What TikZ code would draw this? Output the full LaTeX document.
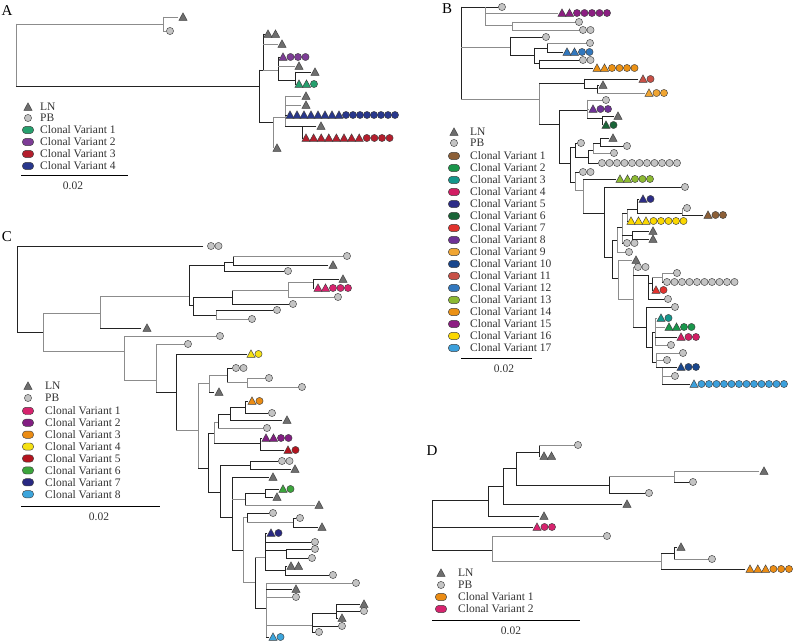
\documentclass[tikz,border=0pt]{standalone}
\usepackage{fontspec}
\setmainfont{Liberation Serif}
\usepackage{tikz}
\definecolor{lncol}{RGB}{110,110,110}
\definecolor{pbcol}{RGB}{196,196,196}
\definecolor{brdark}{RGB}{35,35,35}
\definecolor{brgrey}{RGB}{140,140,140}
% panel A variants
\definecolor{cvAa}{RGB}{38,160,110}
\definecolor{cvAb}{RGB}{125,60,150}
\definecolor{cvAc}{RGB}{180,30,45}
\definecolor{cvAd}{RGB}{40,55,140}
% panel B variants
\definecolor{cvBa}{RGB}{140,95,55}
\definecolor{cvBb}{RGB}{25,150,75}
\definecolor{cvBc}{RGB}{20,150,140}
\definecolor{cvBd}{RGB}{210,30,100}
\definecolor{cvBe}{RGB}{45,45,135}
\definecolor{cvBf}{RGB}{25,100,55}
\definecolor{cvBg}{RGB}{225,50,45}
\definecolor{cvBh}{RGB}{110,50,150}
\definecolor{cvBi}{RGB}{240,165,50}
\definecolor{cvBj}{RGB}{25,70,140}
\definecolor{cvBk}{RGB}{200,80,70}
\definecolor{cvBl}{RGB}{50,120,190}
\definecolor{cvBm}{RGB}{140,185,50}
\definecolor{cvBn}{RGB}{235,145,20}
\definecolor{cvBo}{RGB}{140,30,130}
\definecolor{cvBp}{RGB}{250,215,0}
\definecolor{cvBq}{RGB}{60,160,220}
% panel C variants
\definecolor{cvCa}{RGB}{215,35,110}
\definecolor{cvCb}{RGB}{130,30,130}
\definecolor{cvCc}{RGB}{235,140,20}
\definecolor{cvCd}{RGB}{245,225,20}
\definecolor{cvCe}{RGB}{180,20,30}
\definecolor{cvCf}{RGB}{60,165,60}
\definecolor{cvCg}{RGB}{40,40,130}
\definecolor{cvCh}{RGB}{60,165,220}

\tikzset{
  br/.style={draw=brdark, line width=0.9pt, line cap=rect},
  bg/.style={draw=brgrey, line width=0.9pt, line cap=rect},
  mk/.style={draw=black!75, line width=0.45pt},
  lab/.style={font=\fontsize{11.5}{13}\selectfont, inner sep=0pt, anchor=west, text=black!80},
  plab/.style={font=\fontsize{15}{17}\selectfont, inner sep=0pt},
  scl/.style={draw=black, line width=0.8pt}
}
% branches: horizontal x1 x2 y, vertical x y1 y2
\newcommand{\hb}[4][br]{\draw[#1] (#2,#4) -- (#3,#4);}
\newcommand{\vb}[4][br]{\draw[#1] (#2,#3) -- (#2,#4);}
% tip markers
\newcommand{\mkT}[3]{\draw[mk,fill=#3] (#1,#2) ++(-4.1,3.3) -- ++(8.2,0) -- ++(-4.1,-7.4) -- cycle;}
\newcommand{\mkC}[3]{\draw[mk,fill=#3] (#1,#2) circle[radius=3.6];}
\newcommand{\mkO}[3]{\draw[mk,fill=#3,rounded corners=3.4pt] (#1-5.6,#2-3.6) rectangle (#1+5.6,#2+3.6);}
\newcommand{\mkRow}[5][7.5]{%
  \foreach \m [count=\k from 0] in {#4}{%
    \pgfmathsetmacro\xx{#2+\k*#1}%
    \if t\m\mkT{\xx}{#3}{#5}\else\mkC{\xx}{#3}{#5}\fi}}

\begin{document}
\begin{tikzpicture}[x=1pt,y=-1pt]
  \useasboundingbox (0,0) rectangle (793,642);
  \fill[white] (0,0) rectangle (793,642);

  % ---------------- Panel A
  \node[plab] (labA) at (7,11) {A};
  \vb[bg]{16}{24}{86}
  \hb[bg]{16}{163}{24}
  \vb[bg]{163}{17}{31}
  \hb[bg]{163}{178}{17} \mkT{183}{17}{lncol}
  \hb[bg]{163}{166}{31} \mkC{170}{31}{pbcol}
  \hb{16}{259}{86}
  \vb{259}{70}{122}
  \vb{263}{34}{70}
  \hb{263}{265}{34} \mkRow{268}{34}{t,t}{lncol}
  \hb[bg]{263}{278}{44} \mkT{282}{44}{lncol}
  \hb{259}{263}{70}
  \hb[bg]{263}{278}{70}
  \vb{278}{57}{80}
  \hb{278}{280}{57} \mkRow{283}{57}{t,c,c,c}{cvAb}
  \hb[bg]{278}{295}{66} \mkT{299}{66}{lncol}
  \hb{278}{295}{80}
  \vb{295}{72}{84}
  \hb{295}{311}{72} \mkT{315}{72}{lncol}
  \hb{295}{296}{84} \mkRow{299}{84}{t,t,c}{cvAa}
  \hb{259}{273}{122}
  \vb[bg]{273}{117}{148} \mkT{277}{148}{lncol}
  \hb[bg]{273}{285}{117}
  \vb[bg]{285}{96}{126}
  \hb[bg]{285}{301}{96} \mkT{306}{96}{lncol}
  \hb[bg]{285}{301}{105} \mkT{306}{105}{lncol}
  \hb{285}{287}{115} \mkRow[7]{290}{115}{t,t,t,t,t,t,t,t,c,c,c,c,c,c,c,c}{cvAd}
  \hb{285}{302}{126}
  \vb{302}{126}{138}
  \hb{302}{316}{126} \mkT{321}{126}{lncol}
  \hb{302}{303}{138} \mkRow[7.6]{306}{138}{t,t,t,t,t,t,t,t,c,c,c,c}{cvAc}

  % legend A
  \mkT{28}{107}{lncol} \node[lab] (lnA) at (40,107) {LN};
  \mkC{28}{118}{pbcol} \node[lab] (pbA) at (40,118) {PB};
  \foreach \c [count=\i] in {cvAa,cvAb,cvAc,cvAd}
    {\mkO{28}{118+12*\i}{\c} \node[lab] (cvA\i) at (40,118+12*\i) {Clonal Variant \i};}
  \draw[scl] (21,175) -- (128,175);
  \node[lab,anchor=center] (sclA) at (73,186) {0.02};

  % ---------------- Panel B
  \node[plab] (labB) at (447,9) {B};
  \vb{461}{7}{99}
  \hb{461}{498}{7} \mkC{502}{7}{pbcol}
  \vb[bg]{485}{7}{25}
  \hb[bg]{485}{558}{13} \mkRow{562}{13}{t,t,c,c,c,c,c}{cvBo}
  \hb[bg]{485}{512}{25}
  \vb[bg]{512}{22}{30}
  \hb[bg]{512}{575}{22} \mkC{579}{22}{pbcol}
  \hb[bg]{512}{579}{30} \mkRow{583}{30}{c,c}{pbcol}
  \hb[bg]{461}{510}{47}
  \vb{510}{37}{55}
  \hb{510}{542}{37} \mkC{546}{37}{pbcol}
  \hb{510}{534}{55}
  \vb{534}{48}{63}
  \hb{534}{547}{48}
  \vb{547}{43}{52}
  \hb[bg]{547}{586}{43} \mkC{590}{43}{pbcol}
  \hb{547}{563}{52} \mkRow{567}{52}{t,t,c,c}{cvBl}
  \hb{534}{539}{63}
  \vb{539}{60}{68}
  \hb{539}{579}{60} \mkRow{583}{60}{c,c}{pbcol}
  \hb{539}{593}{68} \mkRow{597}{68}{t,t,c,c,c,c}{cvBn}
  \hb[bg]{461}{539}{99}
  \vb[bg]{539}{83}{124}
  \hb{539}{584}{83}
  \vb{584}{79}{88}
  \hb{584}{638}{79} \mkRow{643}{79}{t,c}{cvBk}
  \hb{584}{597}{88}
  \vb{597}{85}{93}
  \hb{597}{599}{85} \mkT{603}{85}{lncol}
  \hb[bg]{597}{645}{93} \mkRow{649}{93}{t,c,c}{cvBi}
  \hb{539}{559}{124}
  \vb{559}{110}{163}
  \hb{559}{587}{110}
  \vb[bg]{587}{100}{118}
  \hb[bg]{587}{602}{100} \mkC{606}{100}{pbcol}
  \hb[bg]{587}{589}{109} \mkRow{593}{109}{t,c,c}{cvBh}
  \hb{587}{602}{118}
  \vb{602}{116}{125}
  \hb{602}{614}{116} \mkT{618}{116}{lncol}
  \mkRow{606}{125}{t,c}{cvBf}
  \hb{559}{570}{163}
  \vb{570}{147}{182}
  \hb{570}{575}{147}
  \vb{575}{143}{157}
  \hb{575}{577}{143} \mkC{581}{143}{pbcol}
  \hb{575}{588}{157}
  \vb{588}{150}{163}
  \hb{588}{593}{150}
  \vb[bg]{593}{143}{153}
  \hb{593}{600}{143}
  \vb{600}{138}{146}
  \hb{600}{609}{138} \mkT{613}{138}{lncol}
  \hb{600}{623}{146} \mkC{627}{146}{pbcol}
  \hb[bg]{593}{610}{153} \mkC{614}{153}{pbcol}
  \hb{588}{598}{163} \mkRow{602}{163}{c,c,c,c,c,c,c,c,c,c,c}{pbcol}
  \hb{570}{575}{182}
  \vb[bg]{575}{172}{190}
  \hb{575}{579}{172} \mkRow{583}{172}{c,c}{pbcol}
  \hb[bg]{575}{583}{190}
  \vb[bg]{583}{179}{213}
  \hb{583}{616}{179} \mkRow{620}{179}{t,t,c,c,c}{cvBm}
  \hb{583}{604}{213}
  \vb{604}{187}{257}
  \hb{604}{681}{187} \mkC{685}{187}{pbcol}
  \hb{604}{612}{257}
  \vb{612}{240}{278}
  \hb{612}{617}{240}
  \vb[bg]{617}{227}{252}
  \hb[bg]{617}{625}{252} \mkC{629}{252}{pbcol}
  \hb{617}{622}{227}
  \vb[bg]{622}{213}{243}
  \hb{622}{623}{243} \mkRow{627}{243}{c,c}{pbcol}
  \hb{622}{632}{235}
  \vb{632}{231}{239}
  \hb{632}{649}{231} \mkT{653}{231}{lncol}
  \hb{632}{649}{239} \mkT{653}{239}{lncol}
  \hb{622}{627}{213}
  \vb[bg]{627}{209}{221}
  \hb{627}{628}{221} \mkRow{631}{221}{t,t,t,c,c,c,c,c}{cvBp}
  \hb{627}{637}{209}
  \vb{637}{199}{213}
  \hb{637}{639}{199} \mkRow{643}{199}{t,c}{cvBe}
  \hb{637}{682}{213}
  \vb[bg]{682}{208}{215}
  \mkC{687}{208}{pbcol}
  \hb{682}{703}{215} \mkRow{708}{215}{t,c,c}{cvBa}
  \hb{612}{618}{278}
  \vb[bg]{618}{260}{299}
  \hb[bg]{618}{632}{260} \mkT{636}{260}{lncol}
  \hb[bg]{618}{633}{299}
  \vb[bg]{633}{267}{327}
  \hb[bg]{633}{634}{267} \mkRow{638}{267}{c,c}{pbcol}
  \hb{633}{648}{275}
  \vb{648}{275}{299}
  \hb{648}{652}{283}
  \vb{652}{277}{290}
  \hb[bg]{652}{662}{277}
  \vb[bg]{662}{273}{282}
  \hb[bg]{662}{673}{273} \mkC{677}{273}{pbcol}
  \hb{662}{663}{282} \mkRow{667}{282}{c,c,c,c,c,c,c,c,c,c}{pbcol}
  \hb{652}{653}{290} \mkRow{656}{290}{t,c}{cvBg}
  \hb{648}{664}{299} \mkC{668}{299}{pbcol}
  \hb{633}{646}{327}
  \vb{646}{307}{347}
  \hb{646}{671}{307} \mkC{675}{307}{pbcol}
  \hb{646}{652}{347}
  \vb{652}{332}{362}
  \hb{652}{655}{332}
  \vb[bg]{655}{318}{345}
  \hb[bg]{655}{657}{318} \mkRow{661}{318}{t,c}{cvBc}
  \hb[bg]{655}{665}{327} \mkRow{669}{327}{t,t,c,c}{cvBb}
  \hb{655}{677}{337} \mkRow{681}{337}{t,c,c}{cvBd}
  \hb[bg]{655}{667}{345} \mkC{671}{345}{pbcol}
  \hb{652}{656}{362}
  \vb[bg]{656}{353}{367}
  \hb[bg]{656}{679}{353} \mkC{683}{353}{pbcol}
  \hb[bg]{656}{663}{360} \mkC{667}{360}{pbcol}
  \hb{656}{662}{367}
  \vb[bg]{662}{367}{384}
  \hb{662}{677}{367} \mkRow{681}{367}{t,c,c}{cvBj}
  \hb[bg]{662}{671}{376} \mkC{675}{376}{pbcol}
  \hb{662}{690}{384} \mkRow{694}{384}{t,c,c,c,c,c,c,c,c,c,c,c,c}{cvBq}

  % legend B
  \mkT{454}{132}{lncol} \node[lab] (lnB) at (470,132) {LN};
  \mkC{454}{143}{pbcol} \node[lab] (pbB) at (470,143) {PB};
  \foreach \c [count=\i] in {cvBa,cvBb,cvBc,cvBd,cvBe,cvBf,cvBg,cvBh,cvBi,cvBj,cvBk,cvBl,cvBm,cvBn,cvBo,cvBp,cvBq}
    {\mkO{454}{144+12*\i}{\c} \node[lab] (cvB\i) at (470,144+12*\i) {Clonal Variant \i};}
  \draw[scl] (461,358) -- (532,358);
  \node[lab,anchor=center] (sclB) at (504,369) {0.02};

  % ---------------- Panel C
  \node[plab] (labC) at (7,237) {C};
  \vb{17}{246}{332}
  \hb{17}{203}{246} \mkRow{211}{246}{c,c}{pbcol}
  \hb{17}{43}{332}
  \vb[bg]{43}{313}{351}
  \hb[bg]{43}{100}{313}
  \vb[bg]{100}{296}{328}
  \hb[bg]{100}{189}{296}
  \vb{189}{265}{305}
  \hb{189}{224}{265}
  \vb{224}{262}{271}
  \hb{224}{233}{262}
  \vb{233}{256}{265}
  \hb[bg]{233}{343}{256} \mkC{347}{256}{pbcol}
  \hb{233}{328}{265} \mkT{333}{265}{lncol}
  \hb{224}{284}{271} \mkC{288}{271}{pbcol}
  \hb{189}{193}{305}
  \vb{193}{297}{315}
  \hb{193}{232}{297}
  \vb{232}{290}{304}
  \hb[bg]{232}{288}{290}
  \vb[bg]{288}{282}{297}
  \hb[bg]{288}{313}{282}
  \vb{313}{279}{288}
  \hb{313}{339}{279} \mkT{343}{279}{lncol}
  \hb{313}{314}{288} \mkRow{318}{288}{t,t,c,c,c}{cvCa}
  \hb[bg]{288}{334}{297} \mkC{338}{297}{pbcol}
  \hb{232}{289}{304} \mkC{293}{304}{pbcol}
  \hb{193}{216}{315}
  \vb[bg]{216}{310}{319}
  \hb{216}{273}{310} \mkC{277}{310}{pbcol}
  \hb[bg]{216}{248}{319} \mkC{252}{319}{pbcol}
  \hb{100}{141}{328} \mkT{147}{328}{lncol}
  \hb[bg]{43}{124}{351}
  \vb[bg]{124}{336}{380}
  \hb[bg]{124}{216}{336} \mkC{220}{336}{pbcol}
  \hb[bg]{124}{156}{380}
  \vb[bg]{156}{344}{392}
  \hb[bg]{156}{184}{344} \mkC{188}{344}{pbcol}
  \hb{156}{176}{392}
  \vb{176}{354}{430}
  \hb{176}{247}{354} \mkRow{251}{354}{t,c}{cvCd}
  \hb[bg]{176}{198}{430}
  \vb[bg]{198}{383}{468}
  \hb[bg]{198}{209}{383}
  \vb[bg]{209}{375}{392}
  \hb[bg]{209}{227}{375}
  \vb{227}{368}{382}
  \hb{227}{232}{368} \mkRow{236}{368}{c,c}{pbcol}
  \hb[bg]{227}{247}{382}
  \vb[bg]{247}{378}{387}
  \hb[bg]{247}{265}{378} \mkC{269}{378}{pbcol}
  \hb[bg]{247}{298}{387} \mkC{302}{387}{pbcol}
  \hb{209}{214}{392} \mkT{219}{392}{lncol}
  \hb{198}{208}{468}
  \vb{208}{433}{492}
  \hb{208}{214}{433}
  \vb[bg]{214}{422}{443}
  \hb[bg]{214}{218}{422}
  \vb{218}{414}{428}
  \hb{218}{230}{414}
  \vb{230}{407}{420}
  \hb{230}{245}{407}
  \vb{245}{401}{413}
  \hb{245}{248}{401} \mkRow{252}{401}{t,c}{cvCc}
  \hb{245}{268}{413} \mkC{272}{413}{pbcol}
  \hb{230}{282}{420} \mkT{287}{420}{lncol}
  \hb[bg]{218}{263}{428} \mkC{267}{428}{pbcol}
  \hb{214}{260}{443}
  \vb{260}{438}{450}
  \hb{260}{262}{438} \mkRow{266}{438}{t,t,c,c}{cvCb}
  \hb{260}{284}{450} \mkRow{288}{450}{t,c}{cvCe}
  \hb{208}{220}{492}
  \vb{220}{465}{517}
  \hb{220}{250}{465}
  \vb{250}{461}{469}
  \hb{250}{278}{461} \mkRow{282}{461}{c,c}{pbcol}
  \hb{250}{291}{469} \mkT{295}{469}{lncol}
  \hb{220}{232}{517}
  \vb{232}{477}{550}
  \hb{232}{269}{477} \mkT{273}{477}{lncol}
  \hb[bg]{232}{245}{499}
  \vb{245}{493}{505}
  \hb{245}{265}{493}
  \vb{265}{489}{497}
  \hb{265}{279}{489} \mkRow{283}{489}{t,c}{cvCf}
  \hb{265}{273}{497} \mkT{277}{497}{lncol}
  \hb[bg]{245}{315}{505} \mkT{319}{505}{lncol}
  \hb{232}{243}{550}
  \vb[bg]{243}{517}{582}
  \hb[bg]{243}{247}{517}
  \vb{247}{513}{522}
  \hb{247}{269}{513} \mkC{273}{513}{pbcol}
  \hb[bg]{247}{293}{522}
  \vb{293}{518}{527}
  \hb{293}{296}{518} \mkC{300}{518}{pbcol}
  \hb{293}{318}{527} \mkT{322}{527}{lncol}
  \hb[bg]{243}{255}{582}
  \vb{255}{557}{608}
  \hb[bg]{255}{265}{557}
  \vb{265}{533}{570}
  \hb{265}{267}{533} \mkRow{271}{533}{t,c}{cvCg}
  \hb{265}{311}{542} \mkC{315}{542}{pbcol}
  \hb{265}{286}{550}
  \vb{286}{549}{558}
  \hb{286}{311}{549} \mkC{315}{549}{pbcol}
  \hb{286}{308}{558} \mkC{312}{558}{pbcol}
  \hb{265}{285}{570}
  \vb{285}{566}{575}
  \hb{285}{287}{566} \mkRow{291}{566}{t,t}{lncol}
  \hb{285}{329}{575} \mkC{333}{575}{pbcol}
  \hb{255}{266}{608}
  \vb[bg]{266}{583}{637}
  \hb[bg]{266}{352}{583} \mkC{356}{583}{pbcol}
  \hb{266}{292}{589} \mkT{296}{589}{lncol}
  \hb[bg]{266}{292}{597} \mkC{296}{597}{pbcol}
  \hb[bg]{266}{312}{625}
  \vb{312}{613}{632}
  \hb{312}{336}{613}
  \vb{336}{604}{618}
  \hb{336}{360}{604} \mkT{364}{604}{lncol}
  \hb{336}{360}{611} \mkC{364}{611}{pbcol}
  \hb{336}{338}{618} \mkT{342}{618}{lncol}
  \hb{312}{338}{626} \mkC{342}{626}{pbcol}
  \hb{312}{315}{632} \mkC{319}{632}{pbcol}
  \hb{266}{269}{637} \mkRow{273}{637}{t,c}{cvCh}

  % legend C
  \mkT{28}{386}{lncol} \node[lab] (lnC) at (45,386) {LN};
  \mkC{28}{398}{pbcol} \node[lab] (pbC) at (45,398) {PB};
  \foreach \c [count=\i] in {cvCa,cvCb,cvCc,cvCd,cvCe,cvCf,cvCg,cvCh}
    {\mkO{28}{399+11.9*\i}{\c} \node[lab] (cvC\i) at (45,399+11.9*\i) {Clonal Variant \i};}
  \draw[scl] (21,506) -- (160,506);
  \node[lab,anchor=center] (sclC) at (99,517) {0.02};

  % ---------------- Panel D
  \node[plab] (labD) at (432,451) {D};
  \vb{432}{500}{550}
  \hb{432}{488}{500}
  \vb{488}{486}{516}
  \hb{488}{503}{486}
  \vb{503}{468}{504}
  \hb{503}{516}{468}
  \vb{516}{452}{485}
  \hb{516}{539}{452}
  \vb{539}{445}{457}
  \hb[bg]{539}{574}{445} \mkC{578}{445}{pbcol}
  \hb{539}{540}{456} \mkRow{544}{456}{t,t}{lncol}
  \hb{516}{609}{485}
  \vb{609}{476}{493}
  \hb[bg]{609}{674}{476}
  \vb[bg]{674}{471}{482}
  \hb[bg]{674}{759}{471} \mkT{764}{471}{lncol}
  \hb{674}{689}{482} \mkC{693}{482}{pbcol}
  \hb{609}{645}{493} \mkC{649}{493}{pbcol}
  \hb{503}{622}{504} \mkT{627}{504}{lncol}
  \hb{488}{539}{516} \mkT{544}{516}{lncol}
  \hb{432}{533}{527} \mkRow{537}{527}{t,c,c}{cvCa}
  \hb{432}{492}{550}
  \vb[bg]{492}{536}{561}
  \hb[bg]{492}{603}{536} \mkC{607}{536}{pbcol}
  \hb[bg]{492}{661}{561}
  \vb[bg]{661}{553}{569}
  \hb{661}{674}{553}
  \vb{674}{547}{559}
  \hb{674}{677}{547} \mkT{681}{547}{lncol}
  \hb[bg]{674}{708}{559} \mkC{712}{559}{pbcol}
  \hb{661}{745}{569} \mkRow[7.8]{750}{569}{t,t,t,c,c,c}{cvCc}

  % legend D
  \mkT{441}{573}{lncol} \node[lab] (lnD) at (458,573) {LN};
  \mkC{441}{585}{pbcol} \node[lab] (pbD) at (458,585) {PB};
  \foreach \c [count=\i] in {cvCc,cvCa}
    {\mkO{441}{585+12*\i}{\c} \node[lab] (cvD\i) at (458,585+12*\i) {Clonal Variant \i};}
  \draw[scl] (432,620) -- (580,620);
  \node[lab,anchor=center] (sclD) at (511,631) {0.02};
\end{tikzpicture}
\end{document}
